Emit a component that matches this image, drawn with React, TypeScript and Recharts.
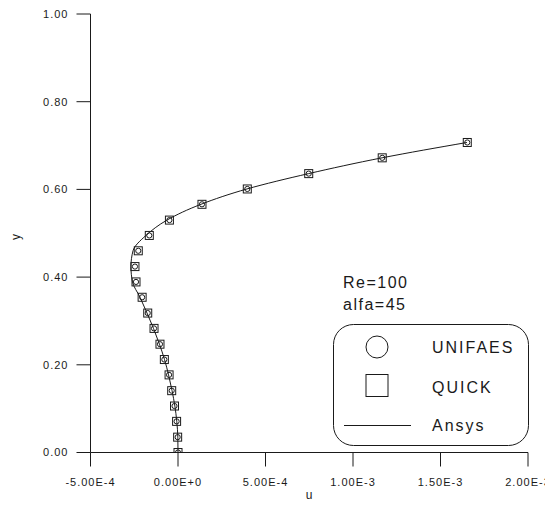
import React from 'react';
import { ComposedChart, Scatter, Line, XAxis, YAxis } from 'recharts';

// y positions of the sampled points
const yValues = [0, 0.035, 0.071, 0.106, 0.141, 0.177, 0.212, 0.247, 0.283, 0.318, 0.354, 0.389, 0.424, 0.46, 0.495, 0.53, 0.566, 0.601, 0.636, 0.672, 0.707];
// UNIFAES (circles)
const unifaesU = [0, -0.000002, -0.000008, -0.00002, -0.000036, -0.000051, -0.000078, -0.000103, -0.000137, -0.000173, -0.000205, -0.00024, -0.000246, -0.000227, -0.000164, -0.000049, 0.000137, 0.000396, 0.000747, 0.001167, 0.001653];
// QUICK (squares)
const quickU = [0, -0.000002, -0.000008, -0.00002, -0.000036, -0.000051, -0.000078, -0.000103, -0.000137, -0.000173, -0.000205, -0.00024, -0.000246, -0.000227, -0.000164, -0.000049, 0.000137, 0.000396, 0.000747, 0.001167, 0.001653];
// Ansys (line)
const ansysU = [0, -0.000001, -0.000007, -0.000018, -0.000034, -0.000054, -0.000077, -0.000106, -0.00014, -0.000177, -0.000217, -0.00026, -0.000269, -0.000257, -0.000183, -0.000063, 0.000131, 0.000394, 0.000746, 0.001166, 0.001651];

const xTicks = [-0.0005, 0, 0.0005, 0.001, 0.0015, 0.002];
const xTickLabels = ['-5.00E-4', '0.00E+0', '5.00E-4', '1.00E-3', '1.50E-3', '2.00E-3'];
const yTicks = [0, 0.2, 0.4, 0.6, 0.8, 1.0];
const yTickLabels = ['0.00', '0.20', '0.40', '0.60', '0.80', '1.00'];

const unifaes = yValues.map((y, i) => ({ u: unifaesU[i], y }));
const quick = yValues.map((y, i) => ({ u: quickU[i], y }));
const ansys = yValues.map((y, i) => ({ u: ansysU[i], y }));

const FONT = '"Liberation Sans", Arial, sans-serif';
const INK = '#1a1a1a';

const CircleShape = (props: any) => (
  <circle cx={props.cx} cy={props.cy} r={2.6} fill="none" stroke={INK} strokeWidth={1} />
);
const SquareShape = (props: any) => (
  <rect x={props.cx - 4} y={props.cy - 4} width={8} height={8} fill="none" stroke={INK} strokeWidth={1} />
);

const W = 545;
const H = 497;

export default function App() {
  return (
    <div style={{ position: 'relative', width: W, height: H }}>
      <ComposedChart
        width={W}
        height={H}
        margin={{ top: 6, right: 25, left: 22.5, bottom: 12.5 }}
        style={{ overflow: 'visible' }}
      >
        <XAxis
          type="number"
          dataKey="u"
          domain={[-0.0005, 0.002]}
          ticks={xTicks}
          allowDataOverflow
          height={40}
          tickSize={14}
          tickMargin={12}
          stroke={INK}
          tickLine={{ stroke: INK }}
          axisLine={{ stroke: INK }}
          tick={{ fill: INK, fontSize: 11, fontFamily: FONT, letterSpacing: 1 }}
          tickFormatter={(v: number) => xTickLabels[xTicks.indexOf(v)] ?? String(v)}
          interval={0}
        />
        <YAxis
          type="number"
          dataKey="y"
          domain={[0, 1]}
          ticks={yTicks}
          allowDataOverflow
          width={60}
          tickSize={14}
          tickMargin={8}
          stroke={INK}
          tickLine={{ stroke: INK }}
          axisLine={{ stroke: INK }}
          tick={{ fill: INK, fontSize: 11, fontFamily: FONT, letterSpacing: 1 }}
          tickFormatter={(v: number) => yTickLabels[yTicks.indexOf(v)] ?? String(v)}
          interval={0}
        />
        <Line
          data={ansys}
          dataKey="y"
          type="monotoneY"
          stroke={INK}
          strokeWidth={1}
          dot={false}
          activeDot={false}
          isAnimationActive={false}
        />
        <Scatter data={quick} dataKey="y" shape={SquareShape} isAnimationActive={false} />
        <Scatter data={unifaes} dataKey="y" shape={CircleShape} isAnimationActive={false} />
      </ComposedChart>
      <svg
        width={W}
        height={H}
        style={{ position: 'absolute', left: 0, top: 0, pointerEvents: 'none' }}
        fontFamily={FONT}
      >
        <text x={301} y={491} textAnchor="middle" fontSize={12} fill={INK}>u</text>
        <text transform="translate(12,229) rotate(-90)" textAnchor="middle" fontSize={12} fill={INK}>y</text>
        <text x={335} y={280} fontSize={16} letterSpacing={1.5} fill={INK}>Re=100</text>
        <text x={335} y={302} fontSize={16} letterSpacing={1.5} fill={INK}>alfa=45</text>
        <rect x={325.5} y={316.5} width={195} height={121} rx={20} ry={20} fill="none" stroke={INK} strokeWidth={1} />
        <circle cx={369} cy={339} r={11} fill="none" stroke={INK} strokeWidth={1} />
        <rect x={358} y={366.5} width={22} height={22} fill="none" stroke={INK} strokeWidth={1} />
        <line x1={336} y1={417.5} x2={403} y2={417.5} stroke={INK} strokeWidth={1} />
        <text x={424} y={345} fontSize={16} letterSpacing={2} fill={INK}>UNIFAES</text>
        <text x={424} y={385} fontSize={16} letterSpacing={2} fill={INK}>QUICK</text>
        <text x={424} y={423} fontSize={16} letterSpacing={2} fill={INK}>Ansys</text>
      </svg>
    </div>
  );
}
